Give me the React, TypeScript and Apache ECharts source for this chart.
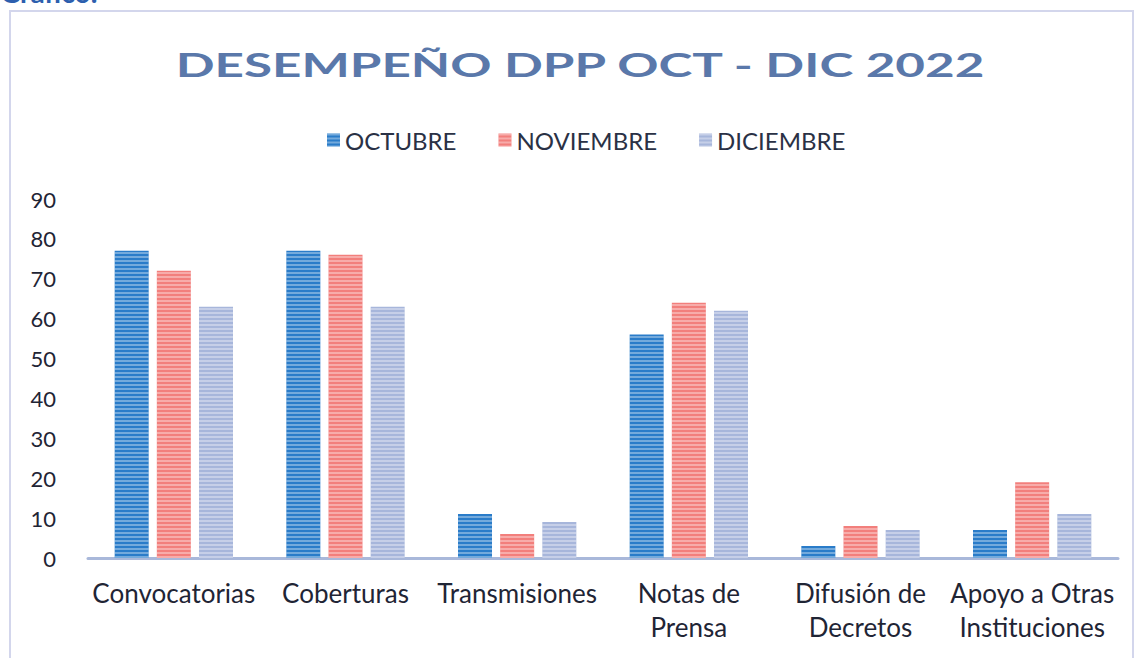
import React, { useEffect, useRef } from "react";
import * as echarts from "echarts";

const categories = [
  "Convocatorias",
  "Coberturas",
  "Transmisiones",
  "Notas de\nPrensa",
  "Difusión de\nDecretos",
  "Apoyo a Otras\nInstituciones",
];
const seriesNames = ["OCTUBRE", "NOVIEMBRE", "DICIEMBRE"];
const octubre = [77, 77, 11, 56, 3, 7];
const noviembre = [72, 76, 6, 64, 8, 19];
const diciembre = [63, 63, 9, 62, 7, 11];
const yTicks = [0, 10, 20, 30, 40, 50, 60, 70, 80, 90];
const titleText = "DESEMPEÑO DPP OCT - DIC 2022";

const colors = ["#2a7cc9", "#f27f7c", "#a7b6db"];

function measure(text: string, font: string): number {
  const c = document.createElement("canvas").getContext("2d");
  if (!c) return 700;
  c.font = font;
  return c.measureText(text).width || 700;
}

export default function App() {
  const ref = useRef<HTMLDivElement>(null);
  useEffect(() => {
    const chart = echarts.init(ref.current!, null, { renderer: "svg" });
    const data = [octubre, noviembre, diciembre];
    const decal = {
      symbol: "rect",
      dashArrayX: [1, 0],
      dashArrayY: [2, 2],
      color: "rgba(255,255,255,0.35)",
      rotation: 0,
    };
    const titleSize = 33;
    const titleW = measure(titleText, `bold ${titleSize}px Lato`);
    const titleScale = 812 / titleW;
    chart.setOption({
      animation: false,
      backgroundColor: "#ffffff",
      legend: {
        top: 128,
        left: 327,
        padding: 0,
        itemWidth: 13,
        itemHeight: 13,
        itemGap: 42,
        icon: "rect",
        data: seriesNames,
        textStyle: {
          fontFamily: "Lato",
          fontSize: 24,
          color: "#2a3145",
        },
      },
      grid: { left: 88, right: 21, top: 199, bottom: 100, containLabel: false },
      xAxis: {
        type: "category",
        data: categories,
        axisLine: { lineStyle: { color: "#a9b8da", width: 3 } },
        axisTick: { show: false },
        axisLabel: {
          interval: 0,
          margin: 18,
          fontFamily: "Lato",
          fontSize: 26,
          lineHeight: 34,
          color: "#1f2535",
        },
      },
      yAxis: {
        type: "value",
        min: yTicks[0],
        max: yTicks[yTicks.length - 1],
        interval: 10,
        splitLine: { show: false },
        axisLine: { show: false },
        axisTick: { show: false },
        axisLabel: {
          margin: 32,
          fontFamily: "Lato",
          fontSize: 22,
          color: "#1f2535",
        },
      },
      series: seriesNames.map((name, i) => ({
        name,
        type: "bar",
        data: data[i],
        barWidth: 34,
        barGap: "24%",
        itemStyle: { color: colors[i], decal },
      })),
      graphic: [
        {
          type: "rect",
          shape: { x: 10, y: 11, width: 1123, height: 700 },
          style: { fill: "none", stroke: "#d3d6ec", lineWidth: 2 },
          silent: true,
        },
        {
          type: "text",
          x: 580,
          y: 64,
          scaleX: titleScale,
          scaleY: 1,
          style: {
            text: titleText,
            fontFamily: "Lato",
            fontWeight: "bold",
            fontSize: titleSize,
            fill: "#5a78aa",
            align: "center",
            verticalAlign: "middle",
          },
        },
        {
          type: "text",
          left: 0,
          top: -22,
          style: {
            text: "Gráfico:",
            fontFamily: "Lato",
            fontWeight: "bold",
            fontSize: 28,
            fill: "#2d5fae",
          },
        },
      ],
    });
    return () => chart.dispose();
  }, []);
  return (
    <div
      ref={ref}
      style={{ position: "fixed", left: 0, top: 0, width: 1139, height: 658 }}
    />
  );
}
